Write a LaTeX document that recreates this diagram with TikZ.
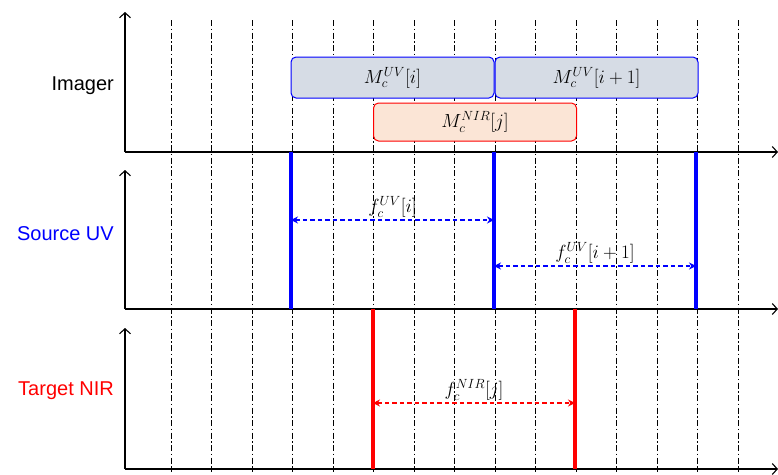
\RequirePackage{fix-cm}
\documentclass[tikz,border=0pt]{standalone}
\usepackage{fontspec}
\setmainfont{Liberation Sans}
\usetikzlibrary{arrows.meta}

\definecolor{uvblue}{RGB}{0,0,255}
\definecolor{nirred}{RGB}{255,0,0}
\definecolor{uvfill}{RGB}{214,220,229}
\definecolor{nirfill}{RGB}{251,229,214}

\begin{document}
\begin{tikzpicture}[x=1pt, y=-1pt,
    axis/.style={line width=1.1pt, -{Straight Barb[length=5pt, width=11pt]}},
    grid/.style={line width=0.9pt, dash pattern=on 6pt off 2.5pt on 1.5pt off 2.5pt},
    frame/.style={draw, rounded corners=5pt, line width=1pt, minimum width=203pt,
        minimum height=41pt, inner sep=0pt, font=\fontsize{19}{22}\selectfont},
    period/.style={line width=1.2pt, dash pattern=on 4.5pt off 3pt,
        {Stealth[length=7pt, width=7pt]}-{Stealth[length=7pt, width=7pt]}},
    flbl/.style={above, inner sep=2pt, text=black, font=\fontsize{19}{22}\selectfont},
    lbl/.style={font=\fontsize{20}{24}\selectfont, anchor=east, inner sep=0pt}]

    \useasboundingbox (0,0) rectangle (778,474);

    % 1. Lưới thời gian (nét chấm gạch)
    \foreach \k in {0,...,14}
        \draw[grid] ({171+40.5*\k}, 20) -- ({171+40.5*\k}, 472);

    % 2. Ba hệ trục
    \draw[axis] (125,152) -- (125,12);
    \draw[axis] (125,152) -- (778,152);
    \draw[axis] (125,309) -- (125,170);
    \draw[axis] (125,309) -- (778,309);
    \draw[axis] (125,469) -- (125,328);
    \draw[axis] (125,469) -- (778,469);

    % 3. Nhãn các kênh
    \node[lbl] (imager) at (114,86) {Imager};
    \node[lbl, text=uvblue] (source) at (114,234) {Source UV};
    \node[lbl, text=nirred] (target) at (114,391) {Target NIR};

    % 4. Các khung phơi sáng
    \node[frame, draw=uvblue, fill=uvfill] (muv0) at (392.5,77.5) {$M_c^{UV}[i]$};
    \node[frame, draw=uvblue, fill=uvfill] (muv1) at (596.5,77.5) {$M_c^{UV}[i+1]$};
    \node[frame, draw=nirred, fill=nirfill, minimum height=38pt] (mnir) at (475,122) {$M_c^{NIR}[j]$};

    % 5. Xung nguồn UV (màu xanh)
    \coordinate (uv0) at (291,152);
    \coordinate (uv1) at (494,152);
    \coordinate (uv2) at (696,152);
    \foreach \p in {uv0,uv1,uv2}
        \draw[uvblue, line width=3.5pt] (\p) -- (\p |- 0,309);

    % 6. Xung đích NIR (màu đỏ)
    \coordinate (nir0) at (373,309);
    \coordinate (nir1) at (575,309);
    \foreach \p in {nir0,nir1}
        \draw[nirred, line width=3.5pt] (\p) -- (\p |- 0,469);

    % 7. Các chu kỳ
    \draw[period, uvblue] (uv0 |- 0,220) -- node[flbl] (fuv0) {$f_c^{UV}[i]$} (uv1 |- 0,220);
    \draw[period, uvblue] (uv1 |- 0,266) -- node[flbl] (fuv1) {$f_c^{UV}[i+1]$} (uv2 |- 0,266);
    \draw[period, nirred] (nir0 |- 0,403) -- node[flbl] (fnir) {$f_c^{NIR}[j]$} (nir1 |- 0,403);
\end{tikzpicture}
\end{document}
